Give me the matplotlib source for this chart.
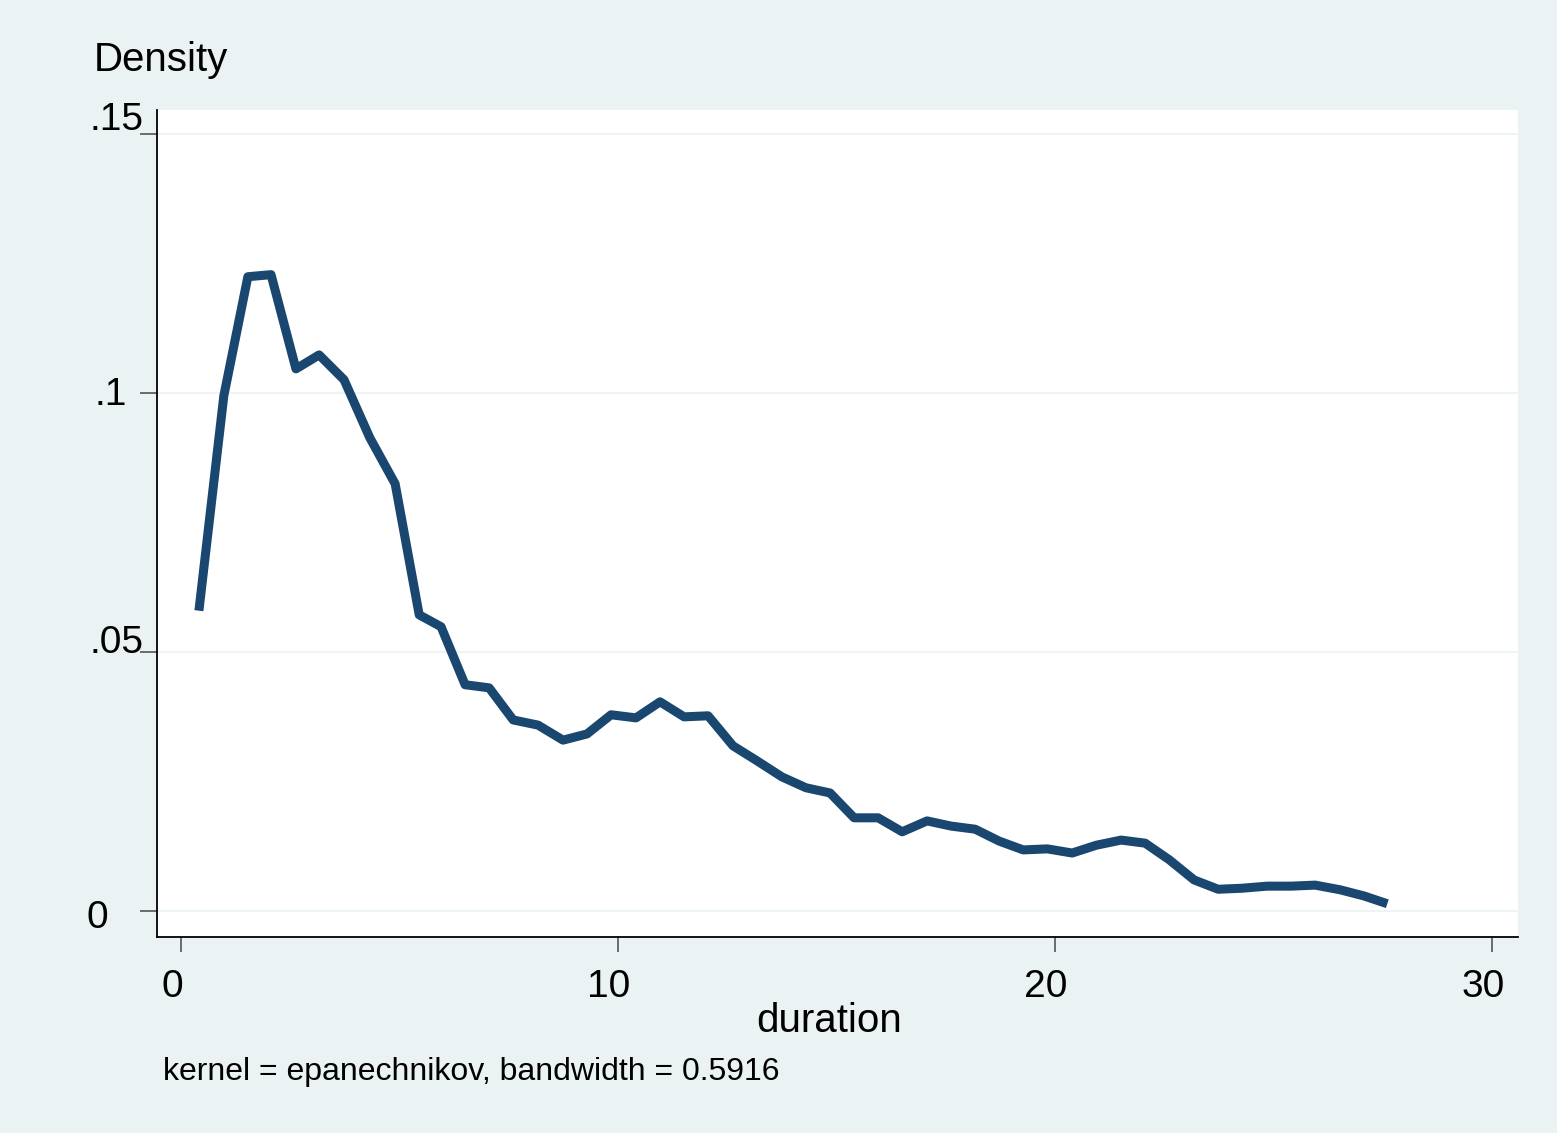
import matplotlib
matplotlib.use("Agg")
import matplotlib.pyplot as plt
import matplotlib.transforms as mtransforms

# Kernel density estimate values
duration = [0.41, 0.98, 1.53, 2.06, 2.63, 3.16, 3.73, 4.32, 4.90, 5.45,
            5.95, 6.50, 7.05, 7.60, 8.17, 8.74, 9.29, 9.84, 10.41, 10.96,
            11.51, 12.06, 12.63, 13.18, 13.75, 14.30, 14.85, 15.40, 15.95, 16.50,
            17.07, 17.62, 18.17, 18.72, 19.27, 19.82, 20.39, 20.94, 21.51, 22.06,
            22.61, 23.18, 23.73, 24.28, 24.85, 25.40, 25.95, 26.52, 27.07, 27.60]
density = [0.0580, 0.0995, 0.1225, 0.1229, 0.1047, 0.1074, 0.1026, 0.0914, 0.0825, 0.0572,
           0.0549, 0.0437, 0.0431, 0.0369, 0.0359, 0.0330, 0.0342, 0.0379, 0.0373, 0.0404,
           0.0375, 0.0377, 0.0319, 0.0290, 0.0259, 0.0238, 0.0228, 0.0180, 0.0180, 0.0153,
           0.0174, 0.0164, 0.0158, 0.0135, 0.0118, 0.0120, 0.0112, 0.0127, 0.0137, 0.0131,
           0.0099, 0.0060, 0.0042, 0.0044, 0.0048, 0.0048, 0.0050, 0.0041, 0.0029, 0.0014]

xticks = [0, 10, 20, 30]
xticklabels = ["0", "10", "20", "30"]
yticks = [0, 0.05, 0.10, 0.15]
yticklabels = ["0", ".05", ".1", ".15"]

plt.rcParams['font.family'] = ['Liberation Sans', 'DejaVu Sans']

bg = "#EAF2F3"
W, H = 1557, 1133
fig = plt.figure(figsize=(W / 100, H / 100), dpi=100, facecolor=bg)
ax = fig.add_axes([157 / W, 1 - 937 / H, (1518 - 157) / W, (937 - 110) / H])
ax.set_facecolor("white")

ax.plot(duration, density, color="#1a476f", lw=6.5, solid_joinstyle="round",
        solid_capstyle="butt", zorder=3)

ax.set_xlim(-0.549, 30.59)
ax.set_ylim(-0.00502, 0.1547)

ax.set_xticks(xticks)
ax.set_xticklabels(xticklabels, fontsize=28)
ax.set_yticks(yticks)
ax.set_yticklabels(yticklabels, fontsize=28)

ax.grid(axis="y", color="#EAF2F3", lw=1.2, zorder=0)
ax.grid(axis="x", visible=False)

for s in ["top", "right"]:
    ax.spines[s].set_visible(False)
for s in ["left", "bottom"]:
    ax.spines[s].set_color("#000000")
    ax.spines[s].set_linewidth(1.3)

ax.tick_params(axis="y", length=12, width=1.2, color="#555555", pad=36)
ax.tick_params(axis="x", length=11, width=1.2, color="#555555", pad=12)

# per-label pixel nudges (dx, dy; dy positive = up) to mimic reference placement
y_nudge = {"0": (-4, -3), ".05": (-1, 13), ".1": (4, 2), ".15": (-1, 18)}
for lab in ax.get_yticklabels():
    lab.set_horizontalalignment("left")
    dx, dy = y_nudge.get(lab.get_text(), (0, 0))
    off = mtransforms.ScaledTranslation(dx / 100, dy / 100, fig.dpi_scale_trans)
    lab.set_transform(lab.get_transform() + off)
offset = mtransforms.ScaledTranslation(-9 / 100, 0, fig.dpi_scale_trans)
for lab in ax.get_xticklabels():
    lab.set_transform(lab.get_transform() + offset)

fig.text(94 / W, 1 - 60 / H, "Density", fontsize=29, ha="left", va="center")
fig.text(829 / W, 1 - 1021 / H, "duration", fontsize=29, ha="center", va="center")
fig.text(163 / W, 1 - 1072 / H, "kernel = epanechnikov, bandwidth = 0.5916",
         fontsize=23, ha="left", va="center")

fig.savefig("out.png", dpi=100, facecolor=bg)
